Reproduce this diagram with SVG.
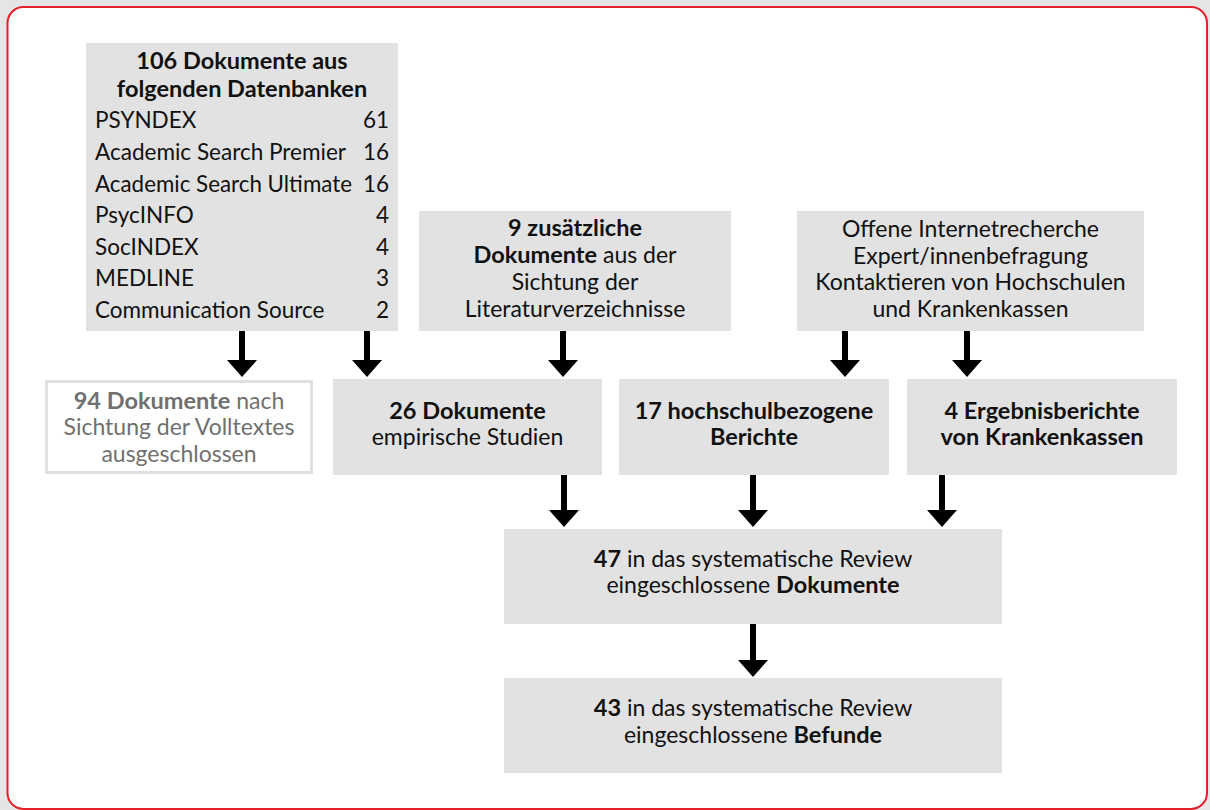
<svg xmlns="http://www.w3.org/2000/svg" width="1210" height="810" viewBox="0 0 1210 810">
  <style>
    text { font-family: Lato, "Open Sans", "Liberation Sans", sans-serif; font-size: 23px; fill: #111; }
    .c { text-anchor: middle; }
    .e { text-anchor: end; }
    .b { font-weight: bold; font-size: 23.5px; }
    .list text { font-size: 22.5px; }
    .box { fill: #e2e2e2; }
    .muted text, text.muted { fill: #707070; }
    .arrow { stroke: #000; stroke-width: 6; }
  </style>
  <defs>
    <marker id="head" viewBox="0 -15 17 30" refX="0" refY="0" markerWidth="17" markerHeight="30" markerUnits="userSpaceOnUse" orient="auto">
      <path d="M0,-15 L17,0 L0,15 Z" fill="#000"/>
    </marker>
  </defs>

  <!-- page background and framed panel -->
  <rect x="0" y="0" width="1210" height="810" fill="#e5e5e5"/>
  <rect x="7.5" y="7" width="1199.5" height="802" rx="16" ry="16" fill="#fff" stroke="#e3202b" stroke-width="2"/>

  <!-- database search -->
  <g id="datenbanken">
    <rect class="box" x="86" y="43" width="312" height="288"/>
    <text class="c b" x="242" y="69">106 Dokumente aus</text>
    <text class="c b" x="242" y="97">folgenden Datenbanken</text>
    <g class="list">
      <text x="95" y="128">PSYNDEX</text><text class="e" x="389" y="128">61</text>
      <text x="95" y="160" textLength="251" lengthAdjust="spacingAndGlyphs">Academic Search Premier</text><text class="e" x="389" y="160">16</text>
      <text x="95" y="192" textLength="257" lengthAdjust="spacingAndGlyphs">Academic Search Ultimate</text><text class="e" x="389" y="192">16</text>
      <text x="95" y="223">PsycINFO</text><text class="e" x="389" y="223">4</text>
      <text x="95" y="255">SocINDEX</text><text class="e" x="389" y="255">4</text>
      <text x="95" y="286">MEDLINE</text><text class="e" x="389" y="286">3</text>
      <text x="95" y="318">Communication Source</text><text class="e" x="389" y="318">2</text>
    </g>
  </g>

  <g id="literatur">
    <rect class="box" x="419" y="211" width="312" height="120"/>
    <text class="c b" x="575" y="236">9 zusätzliche</text>
    <text class="c" x="575" y="263"><tspan class="b">Dokumente</tspan> aus der</text>
    <text class="c" x="575" y="290">Sichtung der</text>
    <text class="c" x="575" y="317">Literaturverzeichnisse</text>
  </g>

  <g id="internet">
    <rect class="box" x="797" y="211" width="347" height="120"/>
    <text class="c" x="970.5" y="237">Offene Internetrecherche</text>
    <text class="c" x="970.5" y="263.5">Expert/innenbefragung</text>
    <text class="c" x="970.5" y="290">Kontaktieren von Hochschulen</text>
    <text class="c" x="970.5" y="316.5">und Krankenkassen</text>
  </g>

  <g id="ausgeschlossen" class="muted">
    <rect x="46.5" y="381.5" width="265" height="91" fill="#fff" stroke="#e0e0e0" stroke-width="3"/>
    <text class="c" x="179" y="409"><tspan class="b">94 Dokumente</tspan> nach</text>
    <text class="c" x="179" y="435">Sichtung der Volltextes</text>
    <text class="c" x="179" y="462">ausgeschlossen</text>
  </g>

  <g id="empirisch">
    <rect class="box" x="333" y="379" width="269" height="96"/>
    <text class="c b" x="467.5" y="419">26 Dokumente</text>
    <text class="c" x="467.5" y="445">empirische Studien</text>
  </g>

  <g id="hochschule">
    <rect class="box" x="619" y="379" width="270" height="96"/>
    <text class="c b" x="754" y="419">17 hochschulbezogene</text>
    <text class="c b" x="754" y="445">Berichte</text>
  </g>

  <g id="krankenkassen">
    <rect class="box" x="907" y="379" width="270" height="96"/>
    <text class="c b" x="1042" y="419">4 Ergebnisberichte</text>
    <text class="c b" x="1042" y="445">von Krankenkassen</text>
  </g>

  <g id="dokumente">
    <rect class="box" x="504" y="529" width="498" height="95"/>
    <text class="c" x="753" y="567"><tspan class="b">47</tspan> in das systematische Review</text>
    <text class="c" x="753" y="593">eingeschlossene <tspan class="b">Dokumente</tspan></text>
  </g>

  <g id="befunde">
    <rect class="box" x="504" y="678" width="498" height="95"/>
    <text class="c" x="753" y="716"><tspan class="b">43</tspan> in das systematische Review</text>
    <text class="c" x="753" y="743">eingeschlossene <tspan class="b">Befunde</tspan></text>
  </g>

  <!-- connectors: shaft ends where the marker head begins (17px above the tip) -->
  <g id="connectors" class="arrow" marker-end="url(#head)">
    <line x1="242" y1="331" x2="242" y2="360"/>
    <line x1="367" y1="331" x2="367" y2="360"/>
    <line x1="563" y1="331" x2="563" y2="360"/>
    <line x1="845" y1="331" x2="845" y2="360"/>
    <line x1="967" y1="331" x2="967" y2="360"/>
    <line x1="564" y1="475" x2="564" y2="510"/>
    <line x1="753" y1="475" x2="753" y2="510"/>
    <line x1="942" y1="475" x2="942" y2="510"/>
    <line x1="753" y1="624" x2="753" y2="660"/>
  </g>
</svg>
